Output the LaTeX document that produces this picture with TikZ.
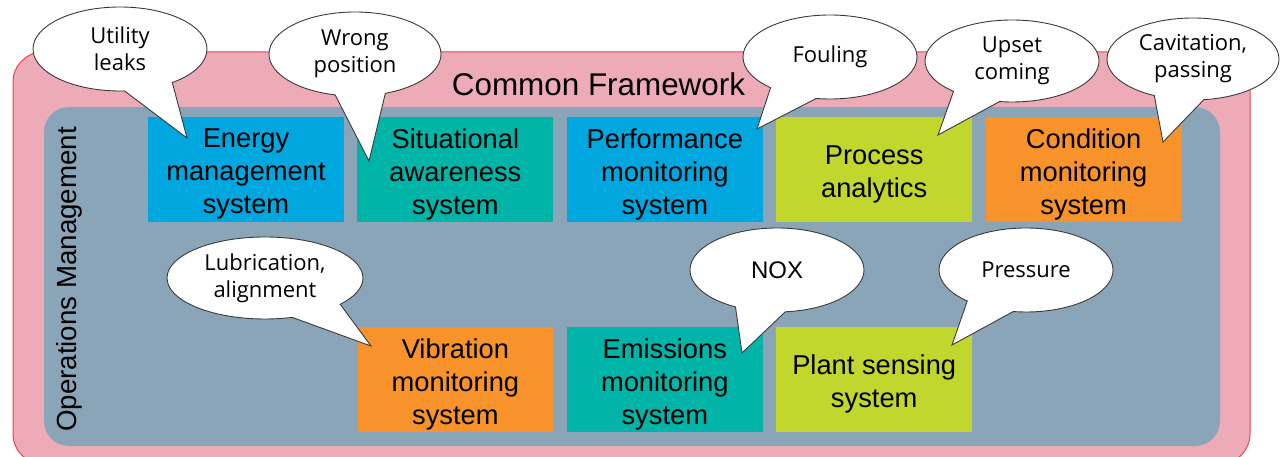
\documentclass[tikz,border=0pt]{standalone}
\usepackage{fontspec}
\setmainfont{Liberation Sans}
\newfontfamily\bubblefont{Open Sans}
\usetikzlibrary{shapes.callouts}

\definecolor{framefill}{HTML}{EDABB7}
\definecolor{frameline}{HTML}{F2404A}
\definecolor{opsfill}{HTML}{8BA5B8}
\definecolor{sysblue}{HTML}{00A6DE}
\definecolor{systeal}{HTML}{00B4A8}
\definecolor{syslime}{HTML}{C2D72E}
\definecolor{sysorange}{HTML}{F7932A}
\definecolor{bubbleline}{HTML}{3A3A3A}

\tikzset{
  sysbox/.style={rectangle, minimum width=196pt, minimum height=105pt,
    inner sep=0pt},
  boxtext/.style={align=center, inner sep=0pt, text=black, yshift=-4.5pt,
    font=\fontsize{27.3}{33}\selectfont},
  bubble/.style={ellipse callout, draw=bubbleline, fill=white, line width=0.9pt,
    inner sep=0pt, align=center, minimum width=174pt, minimum height=84pt,
    callout pointer arc=34,
    font=\bubblefont\fontsize{22}{27}\selectfont},
}

\begin{document}
\begin{tikzpicture}[x=1pt,y=-1pt]
\useasboundingbox (0,0) rectangle (1280,457);
\fill[white] (0,0) rectangle (1280,457);
\clip (0,0) rectangle (1280,457);

% common framework and operations management panels
\draw[fill=framefill, draw=frameline, line width=1pt, rounded corners=30pt]
  (13,52) rectangle (1250,464);
\fill[opsfill, rounded corners=25pt] (44,107) rectangle (1220,446);

\node[anchor=base, font=\fontsize{31.4}{36}\selectfont] (common) at (598.5,96) {Common Framework};
\node[rotate=90, font=\fontsize{27.7}{33}\selectfont] (ops) at (69,279.5) {Operations Management};

% systems, upper row
\node[sysbox, fill=sysblue,   label={[boxtext]center:{Energy\\management\\system}}]      (energy)      at (246,169.5)    {};
\node[sysbox, fill=systeal,   label={[boxtext]center:{Situational\\awareness\\system}}]  (situational) at (455.4,169.5)  {};
\node[sysbox, fill=sysblue,   label={[boxtext]center:{Performance\\monitoring\\system}}] (performance) at (664.8,169.5)  {};
\node[sysbox, fill=syslime,   label={[boxtext]center:{Process\\analytics}}]              (process)     at (874.2,169.5)  {};
\node[sysbox, fill=sysorange, label={[boxtext]center:{Condition\\monitoring\\system}}]   (condition)   at (1083.6,169.5) {};

% systems, lower row
\node[sysbox, fill=sysorange, label={[boxtext]center:{Vibration\\monitoring\\system}}]   (vibration)   at (455.4,379.5)  {};
\node[sysbox, fill=systeal,   label={[boxtext]center:{Emissions\\monitoring\\system}}]   (emissions)   at (664.8,379.5)  {};
\node[sysbox, fill=syslime,   label={[boxtext]center:{Plant sensing\\system}}]           (plant)       at (874.2,379.5)  {};

% points the speech bubbles refer to
\coordinate (tipleaks)    at (187,138);
\coordinate (tipposition) at (369,161);
\coordinate (tipfouling)  at (757,129);
\coordinate (tipupset)    at (938,135);
\coordinate (tipcavit)    at (1163,142);
\coordinate (tiplube)     at (371,346);
\coordinate (tipnox)      at (742,353);
\coordinate (tippressure) at (952,345);

% speech bubbles
\node[bubble, callout absolute pointer={(tipleaks)}]    (leaks)    at (120,49)  {Utility\\leaks};
\node[bubble, minimum width=172pt, callout absolute pointer={(tipposition)}] (position) at (355,54) {Wrong\\position};
\node[bubble, callout absolute pointer={(tipfouling)}]  (fouling)  at (830,57)  {Fouling};
\node[bubble, minimum height=82pt, callout absolute pointer={(tipupset)}] (upset) at (1012,61) {Upset\\coming};
\node[bubble, minimum width=172pt, minimum height=82pt, callout absolute pointer={(tipcavit)}] (cavit) at (1193,59) {Cavitation,\\passing};
\node[bubble, minimum width=196pt, minimum height=82pt, callout absolute pointer={(tiplube)}] (lube) at (265,278) {Lubrication,\\alignment};
\node[bubble, font=\fontsize{24}{28}\selectfont, callout absolute pointer={(tipnox)}] (nox) at (777,270) {NOX};
\node[bubble, callout absolute pointer={(tippressure)}] (pressure) at (1026,270) {Pressure};
\end{tikzpicture}
\end{document}
